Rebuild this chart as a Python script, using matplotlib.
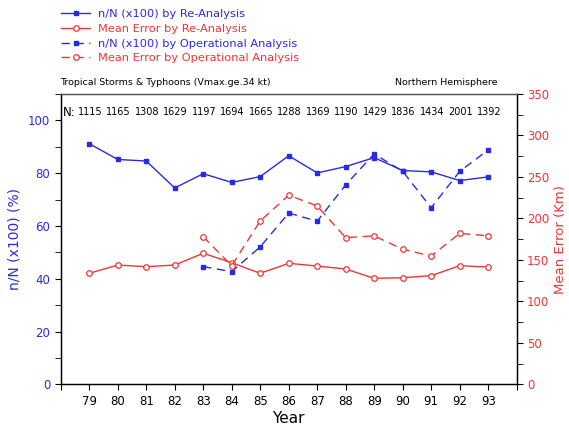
import matplotlib
matplotlib.use("Agg")
import matplotlib.pyplot as plt
from matplotlib.ticker import MultipleLocator

years = [79, 80, 81, 82, 83, 84, 85, 86, 87, 88, 89, 90, 91, 92, 93]
n_counts = [1115, 1165, 1308, 1629, 1197, 1694, 1665, 1288, 1369, 1190, 1429, 1836, 1434, 2001, 1392]
ratio_re = [91.2, 85.2, 84.6, 74.4, 79.8, 76.5, 78.7, 86.6, 80.1, 82.5, 85.9, 81.0, 80.5, 77.2, 78.6]
err_re = [133.8, 143.8, 141.8, 143.8, 158.0, 146.6, 133.8, 145.9, 142.6, 139.0, 127.8, 128.5, 131.0, 143.0, 141.4]
years_op = [83, 84, 85, 86, 87, 88, 89, 90, 91, 92, 93]
ratio_op = [44.6, 42.7, 52.1, 64.9, 61.8, 75.6, 87.3, 80.7, 66.9, 80.7, 88.8]
err_op = [178.0, 143.0, 196.9, 228.0, 215.0, 176.8, 179.0, 162.8, 154.7, 182.0, 179.0]

BLUE = "#2a2ae6"
RED = "#f03535"

fig = plt.figure(figsize=(5.69, 4.24), dpi=100)
ax = fig.add_axes([0.1067, 0.0936, 0.8014, 0.6847])
ax2 = ax.twinx()

l1, = ax.plot(years, ratio_re, '-', color=BLUE, lw=1.0, marker='s', ms=3.2,
              mfc=BLUE, mec=BLUE, label="n/N (x100) by Re-Analysis")
l3, = ax.plot(years_op, ratio_op, '--', color=BLUE, lw=1.0, marker='s', ms=3.2,
              mfc=BLUE, mec=BLUE, dashes=(6, 4), label="n/N (x100) by Operational Analysis")
l2, = ax2.plot(years, err_re, '-', color=RED, lw=1.0, marker='o', ms=4,
               mfc='white', mec=RED, mew=0.9, label="Mean Error by Re-Analysis")
l4, = ax2.plot(years_op, err_op, '--', color=RED, lw=1.0, marker='o', ms=4,
               mfc='white', mec=RED, mew=0.9, dashes=(6, 4), label="Mean Error by Operational Analysis")

ax.set_xlim(78, 94)
ax.set_ylim(0, 110)
ax2.set_ylim(0, 350)

ax.set_xticks(list(range(78, 95)))
ax.set_xticklabels([""] + [str(y) for y in years] + [""])
ax.tick_params(axis='x', direction='out', length=4, labelsize=8.5, colors='black')
ax.set_yticks([0, 20, 40, 60, 80, 100])
ax.yaxis.set_minor_locator(MultipleLocator(10))
ax.tick_params(axis='y', which='both', direction='out', labelcolor=BLUE, labelsize=8.5, length=4)
ax2.set_yticks(list(range(0, 351, 50)))
ax2.yaxis.set_minor_locator(MultipleLocator(25))
ax2.tick_params(axis='y', which='both', direction='out', labelcolor=RED, labelsize=8.5, length=4)

for sp in ax.spines.values():
    sp.set_linewidth(0.9)
for sp in ax2.spines.values():
    sp.set_linewidth(0.9)
ax2.spines['top'].set_color('#555555')
ax.spines['top'].set_color('#555555')

ax.set_xlabel("Year", fontsize=11, labelpad=2)
ax.set_ylabel("n/N (x100) (%)", fontsize=10, color=BLUE, labelpad=5)
ax2.set_ylabel("Mean Error (Km)", fontsize=9.5, color=RED, labelpad=3)

# N counts
ax.text(78.08, 103, "N:", fontsize=8.5, va='center', ha='left')
for y, n in zip(years, n_counts):
    ax.text(y + 0.03, 103, str(n), fontsize=7, va='center', ha='center')

fig.text(0.105, 0.806, "Tropical Storms & Typhoons (Vmax.ge.34 kt)", fontsize=6.8, ha='left', va='center')
fig.text(0.875, 0.806, "Northern Hemisphere", fontsize=6.8, ha='right', va='center')

leg = fig.legend(handles=[l1, l2, l3, l4], loc='upper left', bbox_to_anchor=(0.095, 0.995),
                 frameon=False, fontsize=8.2, handlelength=2.6, labelspacing=0.42,
                 handletextpad=0.7, borderaxespad=0.2)
for txt, c in zip(leg.get_texts(), [BLUE, RED, BLUE, RED]):
    txt.set_color(c)

fig.savefig("out.png", dpi=100)
